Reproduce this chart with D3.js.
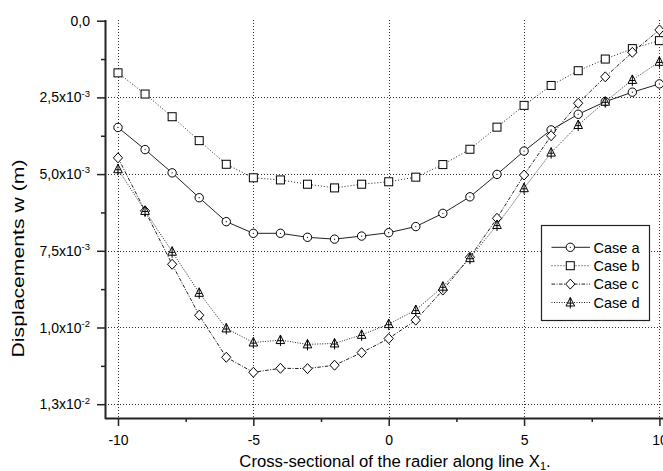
<!DOCTYPE html>
<html>
<head>
<meta charset="utf-8">
<script src="https://cdn.jsdelivr.net/npm/d3@7"></script>
<style>
  html, body { margin: 0; padding: 0; background: #fff; }
  svg { display: block; }
  text { font-family: "Liberation Sans", Arial, sans-serif; fill: #000; }
</style>
</head>
<body>
<svg id="chart" width="663" height="471"></svg>
<script>
// Positions along line X1
const positions = [-10, -9, -8, -7, -6, -5, -4, -3, -2, -1, 0, 1, 2, 3, 4, 5, 6, 7, 8, 9, 10];

// Vertical displacement w (m) for each case
const caseA = [0.00348, 0.00420, 0.00496, 0.00577, 0.00655, 0.00693, 0.00693, 0.00706, 0.00712, 0.00702, 0.00691,
               0.00671, 0.00628, 0.00574, 0.00501, 0.00425, 0.00356, 0.00305, 0.00264, 0.00233, 0.00206];
const caseB = [0.00170, 0.00239, 0.00313, 0.00391, 0.00468, 0.00512, 0.00519, 0.00533, 0.00545, 0.00533, 0.00525,
               0.00510, 0.00469, 0.00419, 0.00347, 0.00276, 0.00211, 0.00163, 0.00125, 0.00091, 0.00065];
const caseC = [0.00447, 0.00620, 0.00794, 0.00960, 0.01097, 0.01146, 0.01133, 0.01134, 0.01123, 0.01082, 0.01036,
               0.00976, 0.00878, 0.00771, 0.00644, 0.00503, 0.00375, 0.00269, 0.00183, 0.00103, 0.00030];
const caseD = [0.00484, 0.00620, 0.00753, 0.00887, 0.01003, 0.01049, 0.01041, 0.01055, 0.01052, 0.01024, 0.00989,
               0.00943, 0.00867, 0.00774, 0.00666, 0.00546, 0.00430, 0.00340, 0.00264, 0.00193, 0.00134];

const seriesNames = ["Case a", "Case b", "Case c", "Case d"];

// Axis ticks and their labels
const xTicks = [-10, -5, 0, 5, 10];
const xTickLabels = ["-10", "-5", "0", "5", "10"];
const xMinorTicks = [-7.5, -2.5, 2.5, 7.5];
const yTicks = [0, 0.0025, 0.005, 0.0075, 0.01, 0.0125];
const yMinorTicks = [0.00125, 0.00375, 0.00625, 0.00875, 0.01125];
const yTickMantissa = ["0,0", "2,5x10", "5,0x10", "7,5x10", "1,0x10", "1,3x10"];
const yTickExponent = ["", "-3", "-3", "-3", "-2", "-2"];

const svg = d3.select("#chart");

const x = d3.scaleLinear().domain([-10.48, 10.52]).range([105, 673.5]);
const y = d3.scaleLinear().domain([0, 0.01295]).range([20.7, 418]);
const plotLeft = 105, plotRight = 663, plotTop = 20, plotBottom = 418;

// Dotted grid at the major ticks
const grid = svg.append("g").attr("stroke", "#333").attr("stroke-width", 1).attr("stroke-dasharray", "1,2");
grid.selectAll("line.v").data(xTicks).join("line")
  .attr("x1", d => Math.round(x(d)) + 0.5).attr("x2", d => Math.round(x(d)) + 0.5)
  .attr("y1", plotTop).attr("y2", plotBottom);
grid.selectAll("line.h").data(yTicks.filter(d => d > 0)).join("line")
  .attr("x1", plotLeft).attr("x2", plotRight)
  .attr("y1", d => Math.round(y(d)) + 0.5).attr("y2", d => Math.round(y(d)) + 0.5);

// Series styles
const styles = [
  { values: caseA, dash: null, marker: "circle" },
  { values: caseB, dash: "1,2", marker: "square" },
  { values: caseC, dash: "3.5,1.5,1,1.5", marker: "diamond" },
  { values: caseD, dash: "1,1.5", marker: "triangle" }
];

function drawMarker(g, type) {
  g.attr("fill", "#fff").attr("stroke", "#000").attr("stroke-width", 1);
  if (type === "circle") {
    g.append("circle").attr("r", 4.2);
    g.append("circle").attr("r", 0.6).attr("fill", "#000").attr("stroke", "none");
  } else if (type === "square") {
    g.append("rect").attr("x", -4).attr("y", -4).attr("width", 8).attr("height", 8);
  } else if (type === "diamond") {
    g.append("path").attr("d", "M0,-5L4.6,0L0,5L-4.6,0Z");
  } else {
    g.append("path").attr("d", "M0,-5L4.3,3.5L-4.3,3.5Z");
    g.append("path").attr("fill", "none").attr("d", "M0,-5L0,6M-2.6,0.6L2.6,0.6");
  }
}

const line = d3.line().x((d, i) => x(positions[i])).y(d => y(d));

styles.forEach(s => {
  svg.append("path")
    .attr("d", line(s.values))
    .attr("fill", "none")
    .attr("stroke", "#222")
    .attr("stroke-width", 1)
    .attr("stroke-dasharray", s.dash);
});

styles.forEach(s => {
  svg.append("g").selectAll("g").data(s.values).join("g")
    .attr("transform", (d, i) => `translate(${x(positions[i])},${y(d)})`)
    .each(function () { drawMarker(d3.select(this), s.marker); });
});

// Legend
const legend = svg.append("g");
legend.append("rect")
  .attr("x", 541.5).attr("y", 225.5).attr("width", 108).attr("height", 95)
  .attr("fill", "#fff").attr("stroke", "#222").attr("stroke-width", 1.2);
styles.forEach((s, i) => {
  const cy = 247.3 + i * 18.4;
  legend.append("line")
    .attr("x1", 551.5).attr("x2", 590).attr("y1", cy).attr("y2", cy)
    .attr("stroke", "#222").attr("stroke-width", 1).attr("stroke-dasharray", s.dash);
  drawMarker(legend.append("g").attr("transform", `translate(570.3,${cy})`), s.marker);
  legend.append("text")
    .attr("x", 593.5).attr("y", cy).attr("dy", "0.36em")
    .attr("font-size", 14.5).text(seriesNames[i]);
});

// Axes
const xAxis = svg.append("g").attr("transform", `translate(0,${plotBottom})`)
  .call(d3.axisBottom(x).tickValues(xTicks).tickSize(8).tickPadding(9)
    .tickFormat((d, i) => xTickLabels[i]));
svg.append("g").attr("transform", `translate(0,${plotBottom})`)
  .call(d3.axisBottom(x).tickValues(xMinorTicks).tickSize(4).tickFormat(""))
  .call(g => g.select(".domain").remove());
xAxis.select(".domain").attr("d", `M${plotLeft},0.5H${plotRight + 20}`);

const yAxis = svg.append("g").attr("transform", `translate(${plotLeft},0)`)
  .call(d3.axisLeft(y).tickValues(yTicks).tickSize(8).tickFormat(""));
svg.append("g").attr("transform", `translate(${plotLeft},0)`)
  .call(d3.axisLeft(y).tickValues(yMinorTicks).tickSize(4).tickFormat(""))
  .call(g => g.select(".domain").remove());
yAxis.select(".domain").attr("d", `M0.5,${plotTop}V${plotBottom + 1}`);

[xAxis, yAxis].forEach(a => {
  a.select(".domain").attr("stroke", "#222").attr("stroke-width", 2);
});
svg.selectAll(".tick line").attr("stroke", "#222").attr("stroke-width", 1.5);
xAxis.selectAll(".tick text")
  .attr("font-size", 14).attr("font-family", "Liberation Sans, Arial, sans-serif").attr("fill", "#000");

// Y tick labels with exponent superscripts
yTicks.forEach((v, i) => {
  const t = svg.append("text")
    .attr("x", 90).attr("y", y(v)).attr("dy", "0.36em")
    .attr("text-anchor", "end").attr("font-size", 14);
  t.append("tspan").text(yTickMantissa[i]);
  if (yTickExponent[i]) {
    t.append("tspan").attr("font-size", 9.5).attr("dy", "-0.6em").text(yTickExponent[i]);
  }
});

// Axis titles
svg.append("text")
  .attr("transform", "translate(24,258.5) rotate(-90)")
  .attr("text-anchor", "middle").attr("font-size", 16.5)
  .attr("textLength", 198).attr("lengthAdjust", "spacingAndGlyphs")
  .text("Displacements w (m)");

const xt = svg.append("text")
  .attr("x", 395).attr("y", 467).attr("text-anchor", "middle").attr("font-size", 16.7);
xt.append("tspan").text("Cross-sectional of the radier along line X");
xt.append("tspan").attr("font-size", 11).attr("dy", 3).text("1");
xt.append("tspan").attr("dy", -3).text(".");
</script>
</body>
</html>
